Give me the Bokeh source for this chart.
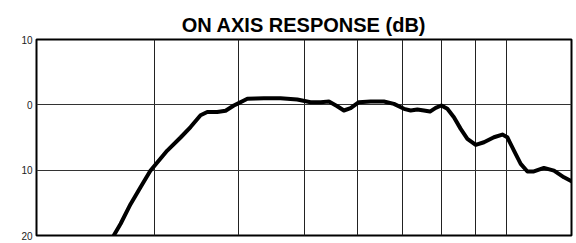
from bokeh.plotting import figure
from bokeh.models import Range1d, FixedTicker
from bokeh.embed import file_html
from bokeh.resources import INLINE

# Frequency (Hz, log axis) and on-axis level (dB)
freq = [2606, 2668, 2760, 2856, 2954, 3130, 3276, 3390, 3508, 3590, 3714, 3822,
        3932, 3978, 4070, 4118, 4358, 4614, 4886, 5114, 5294, 5446, 5604, 5732,
        5866, 6034, 6280, 6574, 6804, 7042, 7204, 7372, 7540, 7698, 7850, 8004,
        8170, 8356, 8552, 8750, 9004, 9262, 9584, 9864, 10032, 10264, 10504,
        10748, 10990, 11374, 11772, 12182, 12540]
level = [-20.0, -18.2, -15.2, -12.6, -10.1, -7.0, -5.0, -3.4, -1.6, -1.1, -1.1, -0.9,
         -0.1, 0.15, 0.66, 0.92, 1.0, 1.0, 0.81, 0.4, 0.4, 0.5, -0.21, -0.87,
         -0.52, 0.4, 0.5, 0.5, 0.15, -0.61, -0.87, -0.72, -0.87, -1.03, -0.46, -0.1,
         -0.61, -1.9, -3.68, -5.2, -6.13, -5.73, -4.96, -4.55, -4.96, -7.0, -9.04,
         -10.2, -10.2, -9.65, -10.06, -11.09, -11.75]

x_grid_ticks = [3000, 4000, 5000, 6000, 7000, 8000, 9000, 10000]
y_ticks = [-20, -10, 0, 10]
y_tick_labels = {-20: "20", -10: "10", 0: "0", 10: "10"}

p = figure(width=574, height=241, x_axis_type="log",
           x_range=Range1d(2000, 12500), y_range=Range1d(-20, 10),
           output_backend="svg", toolbar_location=None,
           min_border_left=36, min_border_right=3, min_border_top=39,
           min_border_bottom=6)

p.title.text = "ON AXIS RESPONSE (dB)"
p.title.text_font = "Liberation Sans"
p.title.text_font_style = "bold"
p.title.text_font_size = "20px"
p.title.align = "center"
p.title.text_color = "black"
p.title.standoff = 8

p.outline_line_color = "black"
p.outline_line_width = 2
p.background_fill_color = "white"
p.border_fill_color = "white"

p.xaxis.visible = False
p.xgrid.ticker = FixedTicker(ticks=x_grid_ticks)
p.xgrid.grid_line_color = "#222222"
p.xgrid.grid_line_width = 1
p.xgrid.grid_line_alpha = 1

p.yaxis.ticker = FixedTicker(ticks=y_ticks)
p.yaxis.major_label_overrides = y_tick_labels
p.yaxis.axis_line_color = None
p.yaxis.major_tick_line_color = None
p.yaxis.minor_tick_line_color = None
p.yaxis.major_tick_out = 0
p.yaxis.major_label_standoff = 4
p.yaxis.major_label_text_font = "Liberation Sans"
p.yaxis.major_label_text_font_size = "10px"
p.yaxis.major_label_text_color = "#222222"
p.ygrid.ticker = FixedTicker(ticks=[-10, 0])
p.ygrid.grid_line_color = "#333333"
p.ygrid.grid_line_width = 1
p.ygrid.grid_line_alpha = 1

p.line(freq, level, line_color="black", line_width=4, line_join="round", line_cap="round")

open("out.html", "w").write(file_html(p, INLINE))
